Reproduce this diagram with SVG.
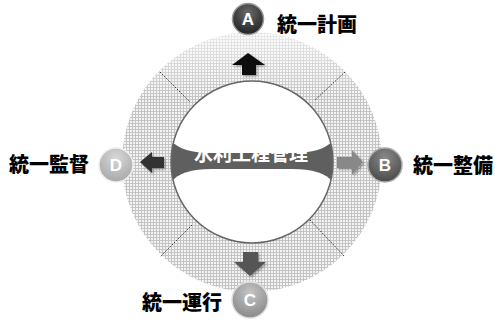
<svg xmlns="http://www.w3.org/2000/svg" width="495" height="322" viewBox="0 0 495 322">
<style>
.lbl{font-family:"Noto Sans CJK JP","Noto Sans CJK TC",sans-serif;font-weight:900;font-size:20px;fill:#000}
.let{font-family:"Liberation Sans",Arial,sans-serif;font-weight:bold;font-size:17px;fill:#fff;text-anchor:middle}
.dot{stroke:#333;stroke-width:1;stroke-dasharray:1.5,1.5;fill:none}
</style>
<defs>
<pattern id="grid" width="3" height="3" patternUnits="userSpaceOnUse">
<rect width="3" height="3" fill="#f4f4f4"/>
<rect x="0" y="0" width="3" height="1" fill="#c4c4c4"/>
<rect x="0" y="0" width="1" height="3" fill="#c4c4c4"/>
</pattern>
<linearGradient id="fade" x1="0" y1="0" x2="0" y2="1">
<stop offset="0" stop-color="#fff" stop-opacity="0.35"/>
<stop offset="0.25" stop-color="#fff" stop-opacity="1"/>
<stop offset="1" stop-color="#fff" stop-opacity="1"/>
</linearGradient>
<mask id="ringMask" maskUnits="userSpaceOnUse" x="0" y="0" width="495" height="322">
<rect x="0" y="32" width="495" height="262" fill="url(#fade)"/>
</mask>
<clipPath id="inner"><circle cx="252" cy="162" r="81"/></clipPath>
<radialGradient id="gA" cx="0.5" cy="0.3" r="0.7">
<stop offset="0" stop-color="#6a6a6a"/><stop offset="1" stop-color="#222"/>
</radialGradient>
<radialGradient id="gB" cx="0.5" cy="0.3" r="0.7">
<stop offset="0" stop-color="#8a8a8a"/><stop offset="1" stop-color="#4a4a4a"/>
</radialGradient>
<radialGradient id="gC" cx="0.5" cy="0.3" r="0.7">
<stop offset="0" stop-color="#c4c4c4"/><stop offset="1" stop-color="#8a8a8a"/>
</radialGradient>
<radialGradient id="gD" cx="0.5" cy="0.3" r="0.7">
<stop offset="0" stop-color="#d8d8d8"/><stop offset="1" stop-color="#a8a8a8"/>
</radialGradient>
<filter id="sh" x="-30%" y="-30%" width="160%" height="160%">
<feDropShadow dx="1.5" dy="1.5" stdDeviation="1" flood-color="#000" flood-opacity="0.35"/>
</filter>
</defs>

<g id="ring">
<circle cx="252" cy="162" r="130" fill="url(#grid)" mask="url(#ringMask)"/>
</g>

<g id="connectors">
<line class="dot" x1="160" y1="72" x2="190" y2="102"/>
<line class="dot" x1="345" y1="72" x2="315" y2="100"/>
<line class="dot" x1="192" y1="225" x2="160" y2="257"/>
<line class="dot" x1="310" y1="220" x2="345" y2="257"/>
<polygon filter="url(#sh)" fill="#111" points="248,53 265,65 256,65 256,75 242,75 242,65 232,65"/>
<polygon filter="url(#sh)" fill="#555" points="243,252 258,252 258,262 266,262 250,276 234,262 243,262"/>
<polygon filter="url(#sh)" fill="#333" points="140,162 152,152 152,157 164,157 164,168 152,168 152,173"/>
<polygon filter="url(#sh)" fill="#888" points="337,157 352,157 352,150 363,162 352,175 352,168 337,168"/>
</g>

<g id="center">
<circle cx="252" cy="162" r="81" fill="#5f5f5f"/>
<text x="251" y="161" text-anchor="middle" font-family="Noto Sans CJK JP,sans-serif" font-weight="bold" font-size="19" fill="#fff">水利工程管理</text>
<g clip-path="url(#inner)" fill="#fff">
<path d="M165,70 H339 V122 C339,143 324,153 292,153 H212 C180,153 165,143 165,122 Z"/>
<path d="M165,260 H339 V200 C339,180 324,169 292,169 H212 C180,169 165,180 165,200 Z"/>
</g>
<circle cx="252" cy="162" r="81" fill="none" stroke="#666" stroke-width="1.5"/>
</g>

<g id="nodeA">
<circle cx="248" cy="19" r="15.5" fill="url(#gA)" stroke="#999" stroke-width="1.5"/>
<text class="let" x="248" y="25">A</text>
<text class="lbl" x="277" y="32">統一計画</text>
</g>

<g id="nodeB">
<circle cx="385" cy="165" r="17" fill="url(#gB)" stroke="#aaa" stroke-width="1.5"/>
<text class="let" x="385" y="171">B</text>
<text class="lbl" x="413" y="173">統一整備</text>
</g>

<g id="nodeC">
<circle cx="250" cy="300" r="18" fill="url(#gC)" stroke="#ddd" stroke-width="1.5"/>
<text class="let" x="250" y="306">C</text>
<text class="lbl" x="142" y="310">統一運行</text>
</g>

<g id="nodeD">
<circle cx="116" cy="165" r="17" fill="url(#gD)" stroke="#eee" stroke-width="1.5"/>
<text class="let" x="116" y="171">D</text>
<text class="lbl" x="9" y="172">統一監督</text>
</g>
</svg>
